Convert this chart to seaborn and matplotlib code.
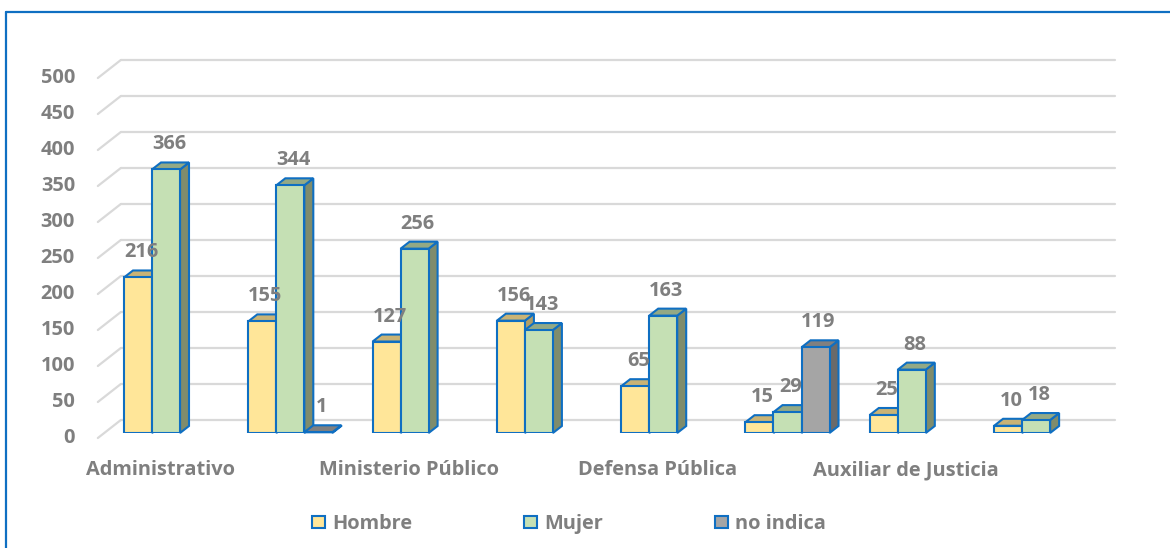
import numpy as np
import pandas as pd
import matplotlib
matplotlib.use("Agg")
import matplotlib.pyplot as plt
import matplotlib.transforms as mtransforms
from matplotlib.patches import Polygon, Patch
from matplotlib.lines import Line2D
import seaborn as sns

# data
categories = ["Administrativo", "Jurisdiccional", "Ministerio Público", "OIJ",
              "Defensa Pública", "Técnico", "Auxiliar de Justicia", "Otros"]
shown_labels = ["Administrativo", "", "Ministerio Público", "",
                "Defensa Pública", "", "Auxiliar de Justicia", ""]
series = ["Hombre", "Mujer", "no indica"]
hombre = [216, 155, 127, 156, 65, 15, 25, 10]
mujer = [366, 344, 256, 143, 163, 29, 88, 18]
no_indica = [np.nan, 1, np.nan, np.nan, np.nan, 119, np.nan, np.nan]
yticks = [0, 50, 100, 150, 200, 250, 300, 350, 400, 450, 500]

front_colors = ["#ffe699", "#c5e0b4", "#a5a5a5"]
top_colors = ["#c9b375", "#93a985", "#808080"]
side_colors = ["#b09e68", "#7f8c6c", "#6a6a6a"]
edge_blue = "#0f6fc2"
text_grey = "#7f7f7f"

df = pd.DataFrame({
    "categoria": categories * 3,
    "serie": np.repeat(series, len(categories)),
    "valor": hombre + mujer + no_indica,
}).dropna()

sns.set_theme(style="white")
plt.rcParams["font.family"] = ["Open Sans", "DejaVu Sans"]
FS = 14.4

W, H = 1170, 548
fig = plt.figure(figsize=(W / 100, H / 100), dpi=100)
# front plane of the bars, in pixels
ax = fig.add_axes([103.85 / W, 115 / H, 994.4 / W, 360 / H])
sns.barplot(data=df, x="categoria", y="valor", hue="serie", order=categories,
            hue_order=series, palette=dict(zip(series, front_colors)),
            width=0.676, saturation=1, edgecolor=edge_blue, linewidth=1.5,
            legend=False, ax=ax)
ax.set_xlim(-0.5, 7.5)
ax.set_ylim(0, 500)
ax.axis("off")

px = ax.transData.transform
ident = mtransforms.IdentityTransform()
bar_d = (9, 7)      # bar depth offset
wall_d = (17, 13)   # back wall offset
floor_d = (-6, -5)  # floor front edge offset
wall_right = 1115

x_left = px((-0.5, 0))[0]
for v in yticks:
    yf = px((0, v))[1]
    ax.add_line(Line2D([x_left + wall_d[0], wall_right], [yf + wall_d[1]] * 2,
                       color="#d9d9d9", lw=1.6, transform=ident, clip_on=False, zorder=0.5))
    ax.add_line(Line2D([x_left + floor_d[0], x_left + wall_d[0]],
                       [yf + floor_d[1], yf + wall_d[1]],
                       color="#d9d9d9", lw=1.6, transform=ident, clip_on=False, zorder=0.5))
    ax.text(75, yf + floor_d[1], str(v), transform=ident, ha="right", va="center",
            fontsize=FS, fontweight="bold", color=text_grey)

for i, lab in enumerate(shown_labels):
    if lab:
        ax.text(px((i, 0))[0] + floor_d[0], H - 470, lab, transform=ident,
                ha="center", va="center", fontsize=FS, fontweight="bold", color=text_grey)

# 3D faces for every bar, drawn left to right
bars = []
for s, cont in enumerate(ax.containers):
    for rect in cont:
        h = rect.get_height()
        if np.isnan(h):
            continue
        bars.append((rect.get_x(), s, rect))
bars.sort(key=lambda b: b[0])

for k, (x0, s, rect) in enumerate(bars):
    w, h = rect.get_width(), rect.get_height()
    X0, Y0 = px((x0, 0))
    X1, Yt = px((x0 + w, h))
    dx, dy = bar_d
    z = 2 + k
    side = Polygon([(X1, Y0), (X1, Yt), (X1 + dx, Yt + dy), (X1 + dx, Y0 + dy)],
                   closed=True, facecolor=side_colors[s], edgecolor=edge_blue, lw=1.5,
                   transform=ident, clip_on=False, zorder=z + 0.1)
    top = Polygon([(X0, Yt), (X1, Yt), (X1 + dx, Yt + dy), (X0 + dx, Yt + dy)],
                  closed=True, facecolor=top_colors[s], edgecolor=edge_blue, lw=1.5,
                  transform=ident, clip_on=False, zorder=z + 0.2)
    ax.add_patch(side)
    ax.add_patch(top)
    rect.set_zorder(z + 0.3)
    ax.text((X0 + X1) / 2 + 3, Yt + 25, f"{h:g}", transform=ident, ha="center",
            va="center", fontsize=FS, fontweight="bold", color=text_grey, zorder=100)

handles = [Patch(facecolor=c, edgecolor=edge_blue, lw=1.5) for c in front_colors]
fig.legend(handles, series, loc="center", bbox_to_anchor=(569 / W, 24 / H), ncol=3,
           frameon=False, handlelength=0.65, handleheight=0.55, handletextpad=0.35,
           columnspacing=5.6, prop={"size": FS, "weight": "bold"}, labelcolor=text_grey)

# chart frame (only top and left edges fall inside the picture)
fig.add_artist(Line2D([6 / W, 6 / W], [0, (H - 12) / H], color=edge_blue, lw=1.6))
fig.add_artist(Line2D([6 / W, 1], [(H - 12) / H, (H - 12) / H], color=edge_blue, lw=1.6))

fig.savefig("out.png", dpi=100)
